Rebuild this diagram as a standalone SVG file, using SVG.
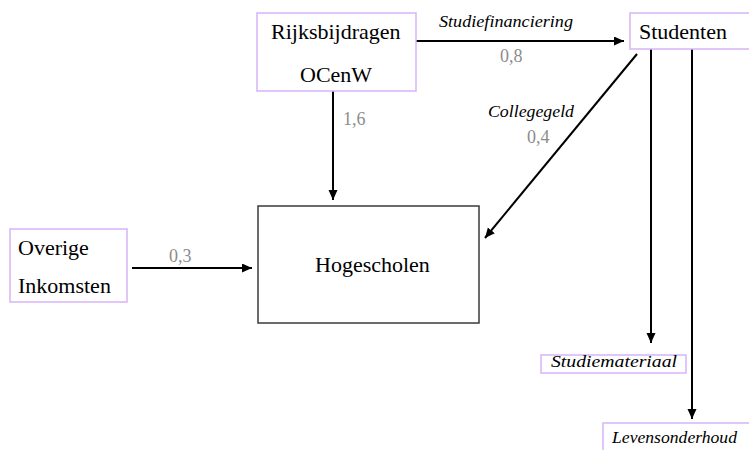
<svg xmlns="http://www.w3.org/2000/svg" width="749" height="450" viewBox="0 0 749 450">
<style>
.box{fill:#fff;stroke:#d7b4f7;stroke-width:1.5}
.main{fill:#fff;stroke:#3a3a3a;stroke-width:1.5}
.t{font-family:"Liberation Serif","Times New Roman",serif;font-size:22px;fill:#000}
.it{font-family:"Liberation Serif","Times New Roman",serif;font-size:16px;font-style:italic;fill:#000}
.num{font-family:"Liberation Serif","Times New Roman",serif;font-size:18px;fill:#8c8c8c}
.c{fill:none;stroke:#000;stroke-width:2;marker-end:url(#ah)}
</style>
<defs>
<marker id="ah" markerUnits="userSpaceOnUse" markerWidth="12" markerHeight="10" refX="10" refY="4.5" orient="auto">
<path d="M0,0 L10,4.5 L0,9 Z" fill="#000"/>
</marker>
</defs>
<rect width="749" height="450" fill="#fff"/>
<g id="connectors">
<path class="c" d="M416 41 H624"/>
<path class="c" d="M333 91 V200"/>
<path class="c" d="M132 268 H252"/>
<path class="c" d="M637 54 L485 238"/>
<path class="c" d="M651 49 V343"/>
<path class="c" d="M692 49 V419"/>
<text class="it" x="439" y="27" textLength="134" lengthAdjust="spacingAndGlyphs">Studiefinanciering</text>
<text class="num" x="500" y="62">0,8</text>
<text class="num" x="343" y="125">1,6</text>
<text class="it" x="488" y="117" textLength="86" lengthAdjust="spacingAndGlyphs">Collegegeld</text>
<text class="num" x="527" y="143">0,4</text>
<text class="num" x="169" y="262">0,3</text>
</g>
<g id="rijksbijdragen">
<rect class="box" x="257" y="13" width="159" height="78"/>
<text class="t" x="271" y="39">Rijksbijdragen</text>
<text class="t" x="300" y="82">OCenW</text>
</g>
<g id="studenten">
<rect class="box" x="630" y="13" width="125" height="36"/>
<text class="t" x="639" y="39">Studenten</text>
</g>
<g id="overige">
<rect class="box" x="10" y="229" width="117" height="73"/>
<text class="t" x="18" y="255">Overige</text>
<text class="t" x="18" y="293">Inkomsten</text>
</g>
<g id="hogescholen">
<rect class="main" x="258" y="206" width="221" height="117"/>
<text class="t" x="315" y="272">Hogescholen</text>
</g>
<g id="studiemateriaal">
<rect class="box" x="541" y="355" width="145" height="18"/>
<text class="it" x="551" y="367" textLength="126" lengthAdjust="spacingAndGlyphs">Studiemateriaal</text>
</g>
<g id="levensonderhoud">
<rect class="box" x="603" y="423" width="160" height="40"/>
<text class="it" x="612" y="443" textLength="125" lengthAdjust="spacingAndGlyphs">Levensonderhoud</text>
</g>
</svg>
